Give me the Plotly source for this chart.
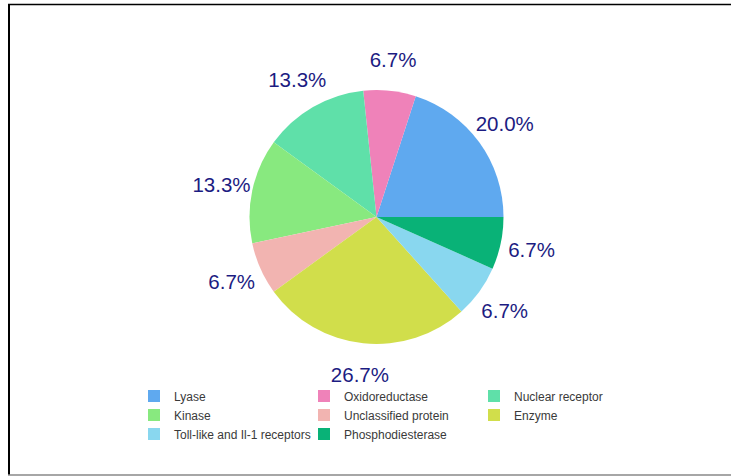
import plotly.graph_objects as go

labels = ["Lyase", "Oxidoreductase", "Nuclear receptor", "Kinase",
          "Unclassified protein", "Enzyme", "Toll-like and Il-1 receptors",
          "Phosphodiesterase"]
counts = [3, 1, 2, 2, 1, 4, 1, 1]
colors = ["#5fa9ef", "#ef82b9", "#5fe0a9", "#88e97f",
          "#f2b4b1", "#d1de4b", "#89d7ef", "#09b277"]

W, H = 731, 476
ML, MR = 60, 60                 # plot-area margins (limit legend to 3 columns)
GW = W - ML - MR
cx, cy, R = 376.5, 217.0, 127.0   # pie centre / radius (px)
R_LABEL = 190.0                   # outer radius of the invisible label ring


def px(x):
    return (x - ML) / GW


def py(y):
    return 1 - y / H


label_font = dict(size=20.5, color="#1c1c82", family="Arial, Liberation Sans")

pie = go.Pie(
    labels=labels,
    values=counts,
    sort=False,
    direction="counterclockwise",
    rotation=18,
    marker=dict(colors=colors, line=dict(width=0)),
    textinfo="none",
    domain=dict(x=[px(cx - R), px(cx + R)], y=[py(cy + R), py(cy - R)]),
    automargin=False,
    hoverinfo="label+percent",
)

# transparent ring around the pie that carries the percentage labels
label_ring = go.Pie(
    labels=[l + " " for l in labels],
    values=counts,
    sort=False,
    direction="counterclockwise",
    rotation=18,
    hole=R / R_LABEL,
    marker=dict(colors=["rgba(0,0,0,0)"] * len(labels), line=dict(width=0)),
    textposition="inside",
    insidetextorientation="horizontal",
    texttemplate="%{percent:.1%}",
    insidetextfont=label_font,
    domain=dict(x=[px(cx - R_LABEL), px(cx + R_LABEL)],
                y=[py(cy + R_LABEL), py(cy - R_LABEL)]),
    automargin=False,
    showlegend=False,
    hoverinfo="skip",
)

fig = go.Figure([pie, label_ring])

frame = dict(color="black", width=2)
fig.update_layout(
    width=W, height=H,
    margin=dict(l=ML, r=MR, t=0, b=0),
    paper_bgcolor="white",
    plot_bgcolor="white",
    font=dict(family="Arial, Liberation Sans"),
    showlegend=True,
    legend=dict(
        orientation="h",
        x=px(389), xanchor="center",
        y=py(381.5), yanchor="top",
        entrywidth=125,
        bgcolor="rgba(0,0,0,0)",
        font=dict(size=12, color="#3a3a3a", family="Arial, Liberation Sans"),
        traceorder="normal",
        itemclick=False,
    ),
    shapes=[
        dict(type="line", xref="paper", yref="paper",
             x0=px(9), x1=px(9), y0=py(4), y1=py(475), line=frame),
        dict(type="line", xref="paper", yref="paper",
             x0=px(8), x1=px(W), y0=py(4.5), y1=py(4.5),
             line=dict(color="black", width=1.5)),
        dict(type="line", xref="paper", yref="paper",
             x0=px(8), x1=px(W), y0=py(475), y1=py(475),
             line=dict(color="#888888", width=1.5)),
    ],
)

fig.write_html("out.html",
               config={"displayModeBar": False},
               post_script="document.body.style.margin='0';"
                           "document.body.style.padding='0';")
